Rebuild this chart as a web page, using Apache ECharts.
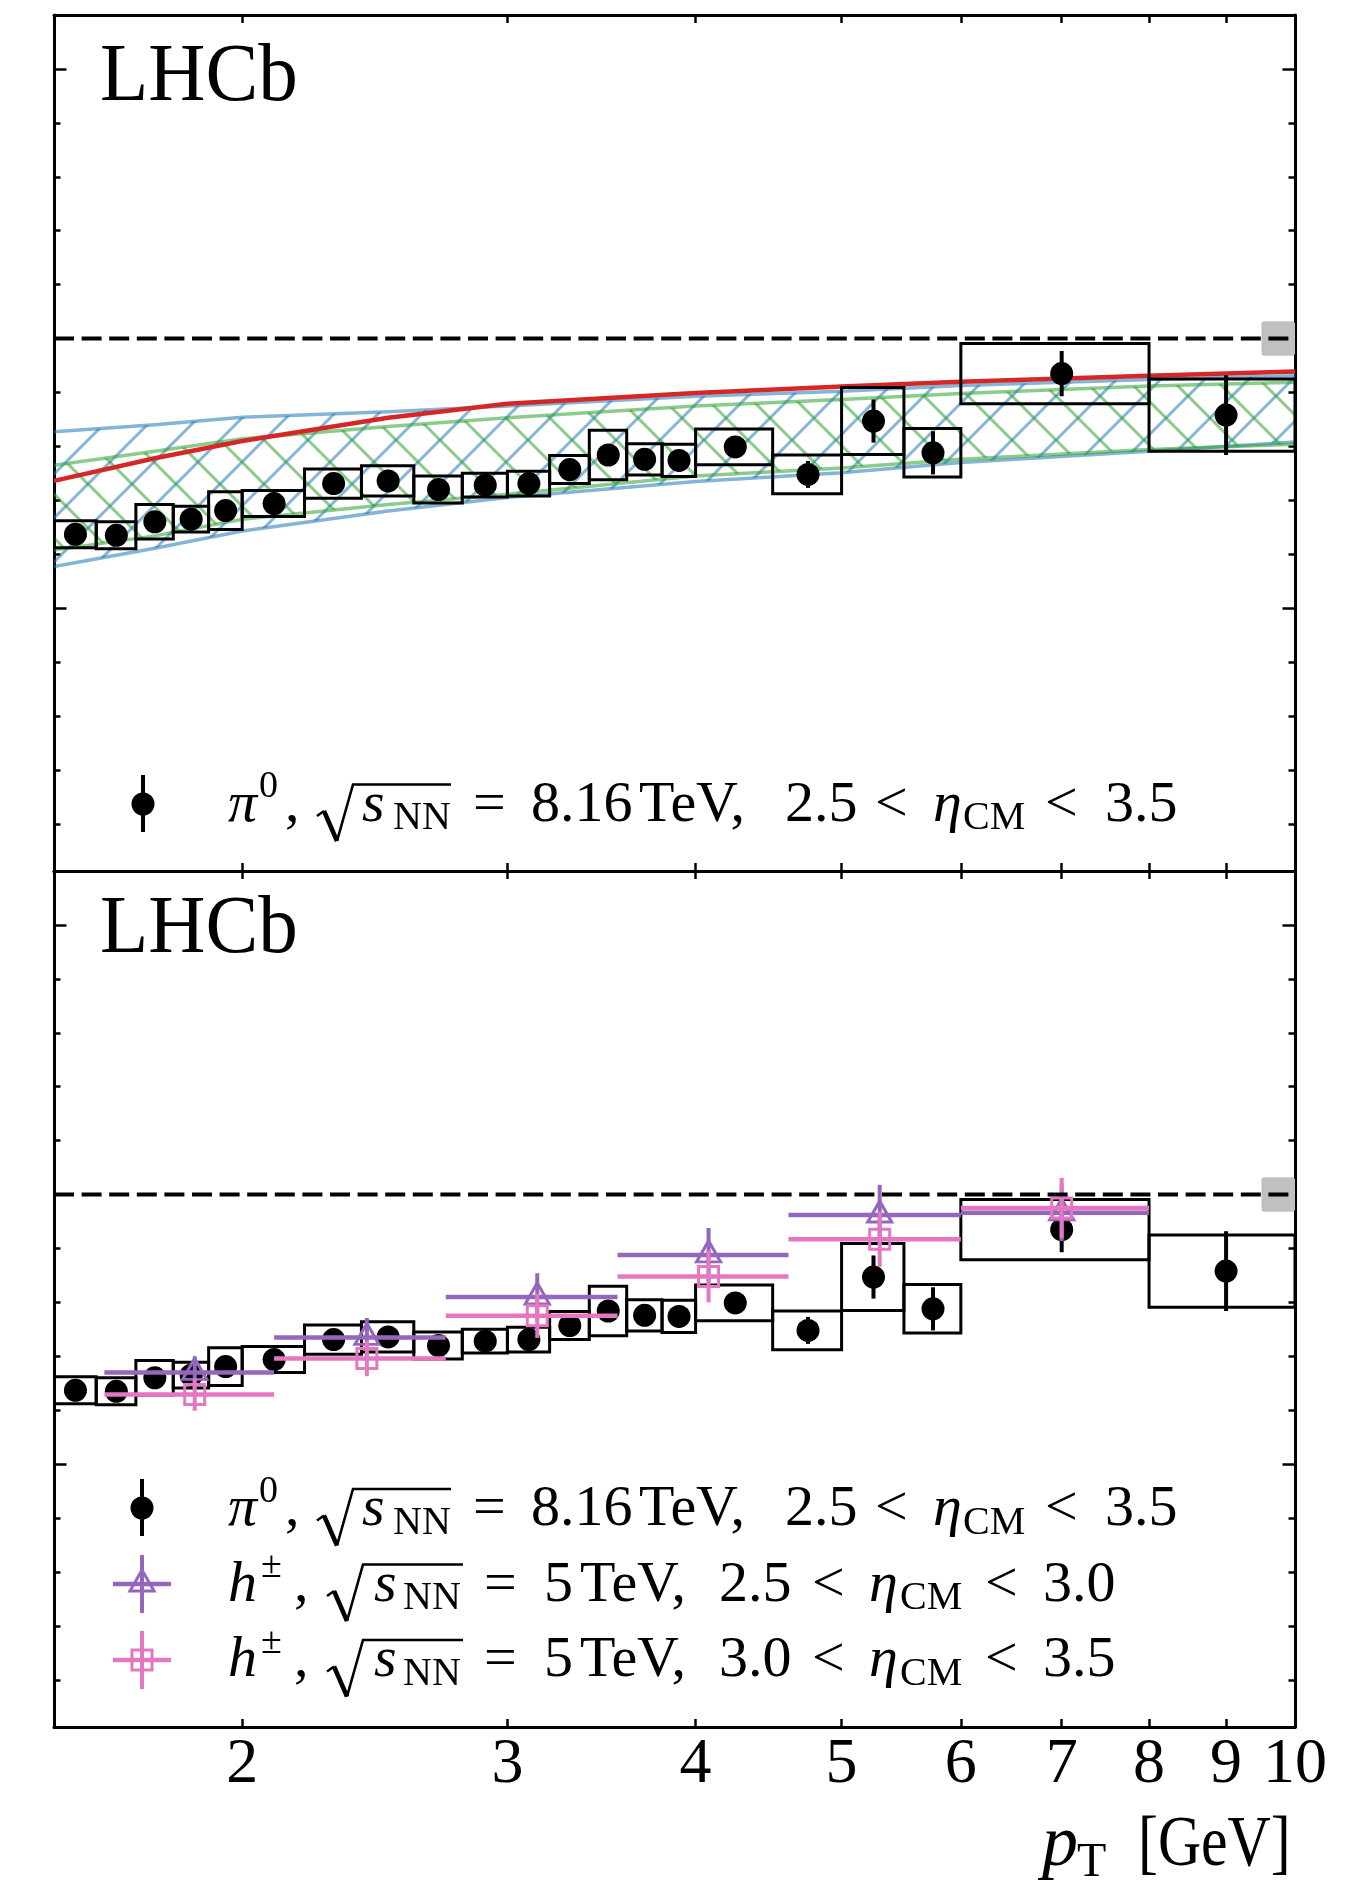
<!DOCTYPE html>
<html><head><meta charset="utf-8"><title>LHCb pi0 R_pPb</title>
<script src="https://cdn.jsdelivr.net/npm/echarts@6/dist/echarts.min.js"></script>
<style>html,body{margin:0;padding:0;background:#fff;}#chart{width:1347px;height:1888px;}</style>
</head><body><div id="chart"></div>
<script>
// ---------------- data ----------------
const pi0BinEdges = [1.5,1.6,1.7,1.8,1.9,2.0,2.2,2.4,2.6,2.8,3.0,3.2,3.4,3.6,3.8,4.0,4.5,5.0,5.5,6.0,8.0,10.0];
const pi0Pt   = [1.55,1.65,1.75,1.85,1.95,2.1,2.3,2.5,2.7,2.9,3.1,3.3,3.5,3.7,3.9,4.25,4.75,5.25,5.75,7.0,9.0];
const pi0R    = [0.637,0.635,0.660,0.665,0.681,0.694,0.731,0.736,0.720,0.728,0.731,0.757,0.784,0.776,0.774,0.799,0.748,0.847,0.788,0.935,0.858];
const pi0Stat = [0.008,0.008,0.008,0.008,0.009,0.009,0.009,0.010,0.010,0.010,0.011,0.012,0.013,0.013,0.014,0.016,0.025,0.040,0.040,0.042,0.074];
const pi0Syst = [0.025,0.025,0.032,0.024,0.035,0.024,0.027,0.028,0.025,0.022,0.023,0.026,0.046,0.029,0.030,0.033,0.036,0.062,0.045,0.056,0.067];

const hBinEdges = [1.62,2.1,2.73,3.55,4.61,6.0,8.0];
const hPt       = [1.86,2.42,3.14,4.08,5.30,7.0];
const hEta1R    = [0.670,0.735,0.810,0.888,0.962,0.966];   // 2.5 < eta < 3.0
const hEta1Err  = [0.030,0.036,0.044,0.050,0.056,0.052];
const hEta2R    = [0.629,0.696,0.775,0.848,0.917,0.975];   // 3.0 < eta < 3.5
const hEta2Err  = [0.030,0.033,0.041,0.048,0.051,0.056];

const bandPt     = [1.5,1.75,2.0,2.5,3.0,4.0,5.0,6.0,8.0,10.0];
const blueUpper  = [0.827,0.840,0.854,0.864,0.875,0.893,0.902,0.913,0.924,0.931];
const blueLower  = [0.577,0.611,0.643,0.680,0.705,0.735,0.751,0.770,0.791,0.808];
const greenUpper = [0.765,0.791,0.814,0.837,0.853,0.875,0.887,0.898,0.912,0.919];
const greenLower = [0.608,0.634,0.665,0.692,0.711,0.745,0.760,0.776,0.794,0.804];
const redCurve   = [0.736,0.778,0.810,0.853,0.879,0.899,0.911,0.920,0.931,0.939];

const xTickValues = [2,3,4,5,6,7,8,9,10];
const yMajorTicks = [0.5,1.0,1.5];
const yMinorTicks = [0.1,0.2,0.3,0.4,0.5,0.6,0.7,0.8,0.9,1.0,1.1,1.2,1.3,1.4,1.5];
const xRange = [1.5,10];
const yRange = [0.0125,1.6];
const refValue = 1.0;
const normUnc = 0.032;
const normBoxPt = [9.5,10];

const piLegend = [['π','it'],['0','sup'],[',','rm'],['s','it'],['NN','sub'],['=','rm'],['8.16','rm'],['TeV,','rm'],['2.5','rm'],['<','rm'],['η','it'],['CM','sub'],['<','rm'],['3.5','rm']];
const h1Legend = [['h','it'],['±','sup'],[',','rm'],['s','it'],['NN','sub'],['=','rm'],['5','rm'],['TeV,','rm'],['2.5','rm'],['<','rm'],['η','it'],['CM','sub'],['<','rm'],['3.0','rm']];
const h2Legend = [['h','it'],['±','sup'],[',','rm'],['s','it'],['NN','sub'],['=','rm'],['5','rm'],['TeV,','rm'],['3.0','rm'],['<','rm'],['η','it'],['CM','sub'],['<','rm'],['3.5','rm']];

// ---------------- layout / style ----------------
const SERIF = 'Liberation Serif';
const PURPLE = '#9467bd', PINK = '#e377c2', RED = '#d62728';
const BLUE_A = 'rgba(31,119,180,0.55)', GREEN_A = 'rgba(44,160,44,0.55)';
const LX = v => Math.log10(v);
const xMin = LX(xRange[0]), xMax = LX(xRange[1]);
const piX = [228,259,285,362,393,473,531,639,785,875,933,963,1045,1105];
const hX  = [228,261,294,374,403,484,544,580,719,812,869,900,985,1043];

function hatch(color, dir, size, lw) {
  const c = document.createElement('canvas'); c.width = c.height = size;
  const g = c.getContext('2d'); g.strokeStyle = color; g.lineWidth = lw;
  g.beginPath();
  if (dir === '/') {
    g.moveTo(0,size); g.lineTo(size,0);
    g.moveTo(-size/2,size/2); g.lineTo(size/2,-size/2);
    g.moveTo(size/2,size*1.5); g.lineTo(size*1.5,size/2);
  } else {
    g.moveTo(0,0); g.lineTo(size,size);
    g.moveTo(size/2,-size/2); g.lineTo(size*1.5,size/2);
    g.moveTo(-size/2,size/2); g.lineTo(size/2,size*1.5);
  }
  g.stroke(); return c;
}
const blueHatch = hatch(BLUE_A,'/',44,3.0);
const greenHatch = hatch(GREEN_A,'\\',44,3.0);

const tickStyle = {color:'#000', width:2.5};
function makeX(gi, pos, showLabels) {
  return {type:'value', gridIndex:gi, position:pos, min:xMin, max:xMax,
    axisLine:{show:true, onZero:false, lineStyle:{color:'#000', width:3}},
    axisTick:{show:true, inside:true, length:8, lineStyle:tickStyle, customValues:xTickValues.map(LX)},
    axisLabel:{show:showLabels, customValues:xTickValues.map(LX),
      formatter:v => String(Math.round(Math.pow(10,v))),
      fontFamily:SERIF, fontSize:64, lineHeight:64, color:'#000', margin:6},
    splitLine:{show:false}};
}
function makeY(gi, pos, ticks, len, line) {
  return {type:'value', gridIndex:gi, position:pos, min:yRange[0], max:yRange[1],
    axisLine:{show:line, onZero:false, lineStyle:{color:'#000', width:3}},
    axisTick:{show:true, inside:true, length:len, lineStyle:tickStyle, customValues:ticks},
    axisLabel:{show:false}, splitLine:{show:false}};
}

function bandSeries(up, lo, pattern, color) {
  return {type:'custom', xAxisIndex:0, yAxisIndex:0, z:2, clip:true, silent:true,
    data:[[LX(bandPt[0]), up[0]]], encode:{x:0, y:1},
    renderItem:(params, api) => {
      const top = bandPt.map((p,i) => api.coord([LX(p), up[i]]));
      const bot = bandPt.map((p,i) => api.coord([LX(p), lo[i]])).reverse();
      return {type:'group', children:[
        {type:'polygon', shape:{points:top.concat(bot)}, style:{fill:{image:pattern, repeat:'repeat'}, stroke:null}},
        {type:'polyline', shape:{points:top}, style:{fill:null, stroke:color, lineWidth:3.5}},
        {type:'polyline', shape:{points:bot}, style:{fill:null, stroke:color, lineWidth:3.5}}
      ]};
    }};
}
function boxSeries(xi, yi) {
  return {type:'custom', xAxisIndex:xi, yAxisIndex:yi, z:4, clip:true, silent:true,
    data:pi0R.map((r,i) => [LX(pi0BinEdges[i]), LX(pi0BinEdges[i+1]), r, pi0Syst[i]]),
    encode:{x:[0,1], y:2},
    renderItem:(params, api) => {
      const a = api.coord([api.value(0), api.value(2)+api.value(3)]);
      const b = api.coord([api.value(1), api.value(2)-api.value(3)]);
      return {type:'rect', shape:{x:a[0], y:a[1], width:b[0]-a[0], height:b[1]-a[1]},
        style:{fill:null, stroke:'#000', lineWidth:3}};
    }};
}
function vErrSeries(xi, yi, pts, vals, errs, color, z) {
  return {type:'custom', xAxisIndex:xi, yAxisIndex:yi, z:z, clip:true, silent:true,
    data:vals.map((v,i) => [LX(pts[i]), v, errs[i]]), encode:{x:0, y:1},
    renderItem:(params, api) => {
      const a = api.coord([api.value(0), api.value(1)+api.value(2)]);
      const b = api.coord([api.value(0), api.value(1)-api.value(2)]);
      return {type:'line', shape:{x1:a[0], y1:a[1], x2:b[0], y2:b[1]}, style:{stroke:color, lineWidth:4}};
    }};
}
function hBarSeries(vals, errs, color, z) {
  return {type:'custom', xAxisIndex:2, yAxisIndex:4, z:z, clip:true, silent:true,
    data:vals.map((v,i) => [LX(hBinEdges[i]), LX(hBinEdges[i+1]), LX(hPt[i]), v, errs[i]]),
    encode:{x:[0,1], y:3},
    renderItem:(params, api) => {
      const l = api.coord([api.value(0), api.value(3)]);
      const r = api.coord([api.value(1), api.value(3)]);
      const t = api.coord([api.value(2), api.value(3)+api.value(4)]);
      const b = api.coord([api.value(2), api.value(3)-api.value(4)]);
      return {type:'group', children:[
        {type:'line', shape:{x1:l[0], y1:l[1], x2:r[0], y2:r[1]}, style:{stroke:color, lineWidth:4.5}},
        {type:'line', shape:{x1:t[0], y1:t[1], x2:b[0], y2:b[1]}, style:{stroke:color, lineWidth:4}}
      ]};
    }};
}
function normBoxSeries(xi, yi) {
  return {type:'custom', xAxisIndex:xi, yAxisIndex:yi, z:9, clip:true, silent:true,
    data:[[LX(normBoxPt[0]), LX(normBoxPt[1]), refValue, normUnc]], encode:{x:[0,1], y:2},
    renderItem:(params, api) => {
      const a = api.coord([api.value(0), api.value(2)+api.value(3)]);
      const b = api.coord([api.value(1), api.value(2)-api.value(3)]);
      return {type:'rect', shape:{x:a[0], y:a[1], width:b[0]-a[0], height:b[1]-a[1], r:3},
        style:{fill:'#c0c0c0', stroke:null}};
    }};
}
function refLine(xi, yi) {
  return {type:'line', xAxisIndex:xi, yAxisIndex:yi, z:10, silent:true, symbol:'none',
    data:[[xMin, refValue],[xMax, refValue]],
    lineStyle:{color:'#000', width:4, type:[20,7.6]}};
}
function pi0Points(xi, yi) {
  return {type:'scatter', xAxisIndex:xi, yAxisIndex:yi, z:6, silent:true, symbol:'circle', symbolSize:23,
    itemStyle:{color:'#000', opacity:1}, data:pi0Pt.map((p,i) => [LX(p), pi0R[i]])};
}

const series = [
  bandSeries(blueUpper, blueLower, blueHatch, BLUE_A),
  bandSeries(greenUpper, greenLower, greenHatch, GREEN_A),
  {type:'line', xAxisIndex:0, yAxisIndex:0, z:3, silent:true, symbol:'none',
    data:bandPt.map((p,i) => [LX(p), redCurve[i]]), lineStyle:{color:RED, width:4.5}},
  boxSeries(0,0),
  vErrSeries(0,0,pi0Pt,pi0R,pi0Stat,'#000',5),
  pi0Points(0,0),
  normBoxSeries(0,0),
  refLine(0,0),
  boxSeries(2,4),
  vErrSeries(2,4,pi0Pt,pi0R,pi0Stat,'#000',5),
  pi0Points(2,4),
  hBarSeries(hEta1R, hEta1Err, PURPLE, 7),
  {type:'scatter', xAxisIndex:2, yAxisIndex:4, z:7, silent:true, symbol:'triangle', symbolSize:[24,21], symbolOffset:[0,-3.5],
    itemStyle:{color:'rgba(0,0,0,0)', borderColor:PURPLE, borderWidth:3, opacity:1},
    data:hPt.map((p,i) => [LX(p), hEta1R[i]])},
  hBarSeries(hEta2R, hEta2Err, PINK, 8),
  {type:'scatter', xAxisIndex:2, yAxisIndex:4, z:8, silent:true, symbol:'rect', symbolSize:20,
    itemStyle:{color:'rgba(0,0,0,0)', borderColor:PINK, borderWidth:3, opacity:1},
    data:hPt.map((p,i) => [LX(p), hEta2R[i]])},
  normBoxSeries(2,4),
  refLine(2,4)
];

// ---------------- text graphics ----------------
function tx(text, x, base, size, italic, extra) {
  return Object.assign({type:'text', x:x, y:base - 0.34*size, silent:true, z:100,
    style:{text:text, fontFamily:SERIF, fontSize:size, fontStyle:italic ? 'italic' : 'normal', fontWeight:'normal',
      fill:'#000', textAlign:'left', textVerticalAlign:'middle', verticalAlign:'middle'}}, extra || {});
}
function legendLine(tokens, xs, base) {
  return tokens.map((t,i) => {
    const kind = t[1];
    if (kind === 'it') return tx(t[0], xs[i], base, 58, true);
    if (kind === 'sup') return tx(t[0], xs[i], base - 25, 38, false);
    if (kind === 'sub') return tx(t[0], xs[i], base + 7.5, 40, false);
    return tx(t[0], xs[i], base, 58, false);
  });
}
function radical(x0, xTop, xEnd, base) {
  return [
    {type:'polyline', silent:true, z:100, shape:{points:[[x0, base-9],[x0+7, base-14]]}, style:{stroke:'#000', lineWidth:2.5, fill:null}},
    {type:'polyline', silent:true, z:100, shape:{points:[[x0+7, base-14],[x0+20, base+16]]}, style:{stroke:'#000', lineWidth:4.5, fill:null}},
    {type:'polyline', silent:true, z:100, shape:{points:[[x0+20, base+16],[xTop, base-40.5],[xEnd, base-40.5]]}, style:{stroke:'#000', lineWidth:2.6, fill:null}}
  ];
}
function pi0Icon(cx, cy) {
  return [
    {type:'line', silent:true, z:100, shape:{x1:cx, y1:cy-29, x2:cx, y2:cy+28}, style:{stroke:'#000', lineWidth:4}},
    {type:'circle', silent:true, z:100, shape:{cx:cx, cy:cy, r:11.5}, style:{fill:'#000'}}
  ];
}
function hIcon(cx, cy, color, kind) {
  const els = [
    {type:'line', silent:true, z:100, shape:{x1:cx-29, y1:cy, x2:cx+29, y2:cy}, style:{stroke:color, lineWidth:4.5}},
    {type:'line', silent:true, z:100, shape:{x1:cx, y1:cy-29, x2:cx, y2:cy+29}, style:{stroke:color, lineWidth:4}}
  ];
  if (kind === 'tri') els.push({type:'polygon', silent:true, z:100, shape:{points:[[cx, cy-14],[cx+12, cy+7],[cx-12, cy+7]]}, style:{fill:null, stroke:color, lineWidth:3}});
  else els.push({type:'rect', silent:true, z:100, shape:{x:cx-10, y:cy-10, width:20, height:20}, style:{fill:null, stroke:color, lineWidth:3}});
  return els;
}

const graphics = [].concat(
  [tx('LHCb', 100, 106, 82, false, {scaleX:0.965}), tx('LHCb', 100, 958, 82, false, {scaleX:0.965})],
  pi0Icon(143, 804), legendLine(piLegend, piX, 825), radical(317, 353, 451, 825),
  pi0Icon(142, 1508), legendLine(piLegend, piX, 1529.5), radical(317, 353, 451, 1529.5),
  hIcon(142, 1584, PURPLE, 'tri'), legendLine(h1Legend, hX, 1605), radical(327, 363, 463, 1605),
  hIcon(142, 1660, PINK, 'sq'), legendLine(h2Legend, hX, 1680.5), radical(327, 363, 463, 1680.5),
  [tx('p', 1042, 1871, 72, true), tx('T', 1077, 1879.5, 48, false), tx('[GeV]', 1138, 1871, 72, false, {scaleX:0.83})]
);

const option = {
  animation:false,
  backgroundColor:'#fff',
  textStyle:{fontFamily:SERIF},
  grid:[{left:54, top:15, width:1241, height:856, outerBoundsMode:'none'},
        {left:54, top:871, width:1241, height:856, outerBoundsMode:'none'}],
  xAxis:[makeX(0,'bottom',false), makeX(0,'top',false), makeX(1,'bottom',true), makeX(1,'top',false)],
  yAxis:[makeY(0,'left',yMajorTicks,12.5,true), makeY(0,'left',yMinorTicks,6.5,false),
         makeY(0,'right',yMajorTicks,12.5,true), makeY(0,'right',yMinorTicks,6.5,false),
         makeY(1,'left',yMajorTicks,12.5,true), makeY(1,'left',yMinorTicks,6.5,false),
         makeY(1,'right',yMajorTicks,12.5,true), makeY(1,'right',yMinorTicks,6.5,false)],
  series:series,
  graphic:graphics
};
const chart = echarts.init(document.getElementById('chart'), null, {renderer:'canvas'});
chart.setOption(option);
</script></body></html>
